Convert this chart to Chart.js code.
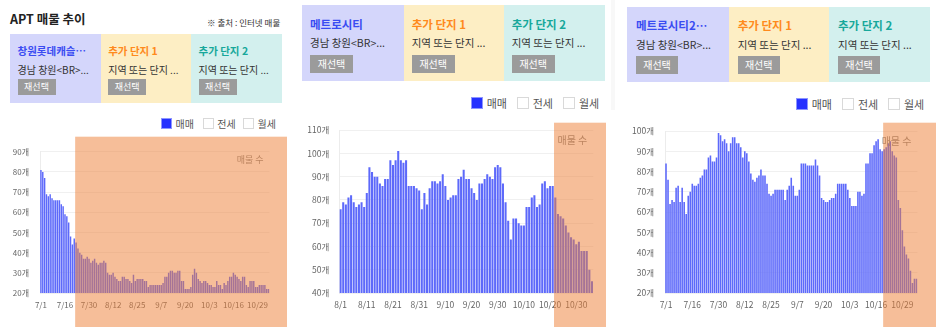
<!DOCTYPE html>
<html><head><meta charset="utf-8">
<script src="https://cdn.jsdelivr.net/npm/chart.js@4.4.0/dist/chart.umd.min.js"></script>
<style>
body{margin:0;width:936px;height:327px;overflow:hidden;background:#fff;font-family:'Noto Sans CJK KR','Noto Sans',sans-serif;position:relative}
div,span,canvas{position:absolute;box-sizing:border-box}
</style></head><body>
<script>
// ---------- DATA ----------
const tickLabelsA = ['7/1','7/16','7/30','8/12','8/25','9/7','9/20','10/3','10/16','10/29'];
const tickLabelsB = ['8/1','8/11','8/21','8/31','9/10','9/20','9/30','10/10','10/20','10/30'];

const values1 = [81,80,77,69,68,69,67,66,66,66,66,64,63,59,58,55,48,44,47,
  45,42,40,39,37,37,38,37,35,36,37,35,34,35,35,36,35,30,29,29,30,28,27,26,26,28,28,27,27,26,25,29,26,27,27,27,27,26,26,23,24,
  24,24,24,24,24,24,25,28,28,30,31,31,30,30,31,31,26,26,22,22,22,23,29,32,30,27,26,25,26,26,25,24,24,23,23,26,24,24,22,25,
  24,26,28,28,30,29,28,27,26,28,28,24,23,26,26,26,23,23,24,24,24,24,22,22];

const values2 = [76,79,78,81,82,79,77,78,79,77,83,94,92,90,90,87,86,89,89,97,95,97,101,97,96,97,86,86,86,85,
  84,76,83,78,85,88,88,87,88,91,86,80,81,82,82,89,90,93,89,89,85,83,80,87,87,89,91,90,89,94,
  95,94,87,79,71,63,72,72,70,69,69,77,77,81,82,77,78,87,88,85,86,86,81,74,73,72,69,66,64,63,
  61,62,58,58,58,50,45];

const values3 = [84,76,64,66,65,72,73,65,72,65,59,68,70,74,73,73,74,77,78,81,81,87,88,85,85,87,99,98,95,96,
  94,90,94,97,97,94,94,92,87,90,89,85,79,76,75,77,78,81,78,78,74,69,68,69,71,71,71,71,71,66,
  71,73,77,73,68,68,71,84,84,84,83,83,83,83,86,83,78,67,66,65,65,66,67,67,69,74,74,74,74,74,
  71,67,63,63,63,70,70,68,69,84,84,89,89,93,95,96,91,90,91,92,94,95,90,88,87,66,62,51,43,39,
  37,31,25,27,27];

const cardTitles1 = ['창원롯데캐슬…','추가 단지 1','추가 단지 2'];
const cardTitles2 = ['메트로시티','추가 단지 1','추가 단지 2'];
const cardTitles3 = ['메트로시티2…','추가 단지 1','추가 단지 2'];
const cardSubs = ['경남 창원<BR>...','지역 또는 단지 ...','지역 또는 단지 ...'];
const legendNames = ['매매','전세','월세'];

// category labels (dates). July has a few missing days in the source series.
function dateLabels(m, d, count, skip){
  const out=[]; const dt=new Date(2022,m-1,d);
  while(out.length<count){
    const s=(dt.getMonth()+1)+'/'+dt.getDate();
    if(!skip.includes(s)) out.push(s);
    dt.setDate(dt.getDate()+1);
  }
  return out;
}
const labels1 = dateLabels(7,1,values1.length,['7/6','7/12','7/23']);
const labels2 = dateLabels(8,1,values2.length,[]);
const labels3 = dateLabels(7,1,values3.length,['7/6','7/12','7/23']);

// ---------- STYLE ----------
const cardBg = ['#d4d6fb','#fdeec4','#d3f0ee'];
const cardTitleColor = ['#3a4cf2','#ff8a1c','#17a89b'];
const barColor = '#5d69fa';
const FONT = "'Noto Sans CJK KR','Noto Sans',sans-serif";

function el(tag, style, text){
  const e=document.createElement(tag); Object.assign(e.style, style);
  if(text!==undefined) e.textContent=text; document.body.appendChild(e); return e;
}

function cards(cfg, titles){
  let x=cfg.x;
  for(let i=0;i<3;i++){
    const w=cfg.w[i];
    el('div',{left:x+'px',top:cfg.y+'px',width:w+'px',height:cfg.h+'px',background:cardBg[i]});
    el('div',{left:(x+cfg.pad)+'px',top:(cfg.y+cfg.tY-8)+'px',height:'16px',lineHeight:'16px',fontSize:cfg.tF+'px',fontWeight:'700',color:cardTitleColor[i],whiteSpace:'nowrap'},titles[i]);
    el('div',{left:(x+cfg.pad)+'px',top:(cfg.y+cfg.sY-8)+'px',height:'16px',lineHeight:'16px',fontSize:cfg.sF+'px',color:'#333',whiteSpace:'nowrap'},cardSubs[i]);
    el('div',{left:(x+cfg.pad)+'px',top:(cfg.y+cfg.bY)+'px',width:cfg.bW+'px',height:cfg.bH+'px',lineHeight:cfg.bH+'px',background:'#9b9b9b',color:'#fff',fontSize:cfg.bF+'px',textAlign:'center'},'재선택');
    x+=w;
  }
}

function legend(cfg){
  for(let i=0;i<3;i++){
    const bx=cfg.boxX[i];
    el('div',{left:bx+'px',top:(cfg.y-cfg.box/2)+'px',width:cfg.box+'px',height:cfg.box+'px',
      background:i===0?'#2531ff':'#fff',border:i===0?'1px solid #8d95ff':'1px solid #d9d9d9'});
    el('div',{left:(bx+cfg.box+cfg.gap)+'px',top:(cfg.y-8)+'px',height:'16px',lineHeight:'16px',fontSize:cfg.f+'px',color:'#555',whiteSpace:'nowrap'},legendNames[i]);
  }
}

// Panel headers
el('div',{left:'10px',top:'10px',height:'18px',lineHeight:'18px',fontSize:'12.5px',fontWeight:'700',color:'#222',whiteSpace:'nowrap'},'APT 매물 추이');
el('div',{left:'207px',top:'15px',height:'14px',lineHeight:'14px',fontSize:'8.5px',color:'#333',whiteSpace:'nowrap'},'※ 출처 : 인터넷 매물');
cards({x:10,y:34.3,w:[90.7,90.3,90.7],h:69,pad:7.5,tY:16.7,sY:35.7,bY:45,bW:38,bH:16,tF:10.5,sF:10,bF:9},cardTitles1);
cards({x:302.3,y:5,w:[101.7,100,101],h:76,pad:7.7,tY:18.8,sY:38,bY:50,bW:43,bH:18,tF:11.5,sF:10.5,bF:10},cardTitles2);
cards({x:627.3,y:7.3,w:[101.7,100.3,101],h:75,pad:8.7,tY:17.4,sY:37.7,bY:48.7,bW:42,bH:18,tF:11.5,sF:10.5,bF:10},cardTitles3);
legend({y:123.8,box:11,gap:3.5,f:10,boxX:[161,202.7,243]});
legend({y:102.5,box:12,gap:4,f:11,boxX:[470.7,516.7,563]});
legend({y:104,box:12,gap:4,f:11,boxX:[795.7,842,888]});
el('div',{left:'611px',top:'0px',width:'4px',height:'110px',background:'#f8f8f8'});

// ---------- CHARTS ----------
const overlayPlugin = {
  id:'overlay',
  afterDraw(chart, args, o){
    const {ctx, chartArea, scales:{x}} = chart;
    ctx.save();
    ctx.font = o.fs+'px '+FONT;
    ctx.fillStyle='#8a8a8a'; ctx.textAlign='right'; ctx.textBaseline='middle';
    ctx.fillText('매물 수', chartArea.right - o.lx, chartArea.top + o.ly);
    const half=(x.getPixelForValue(1)-x.getPixelForValue(0))/2;
    const x0=x.getPixelForValue(o.from)-half;
    ctx.fillStyle='rgba(238,126,52,0.5)';
    ctx.fillRect(x0, o.top, o.right-x0, chart.height-o.top);
    ctx.restore();
  }
};

function makeChart(pos, labels, values, ticks, yMin, yMax, lay){
  const c=document.createElement('canvas');
  c.width=pos.w; c.height=pos.h;
  Object.assign(c.style,{left:pos.x+'px',top:pos.y+'px',width:pos.w+'px',height:pos.h+'px'});
  document.body.appendChild(c);
  new Chart(c,{
    type:'bar',
    data:{labels, datasets:[{label:'매매', data:values, backgroundColor:barColor, barPercentage:0.78, categoryPercentage:1}]},
    options:{
      responsive:false, animation:false, devicePixelRatio:1,
      layout:{padding:{top:lay.top,right:lay.right,left:0,bottom:0}},
      plugins:{legend:{display:false},tooltip:{enabled:false},
        overlay:{from:lay.from,top:lay.oTop,right:lay.oRight,fs:lay.lfs,lx:6,ly:lay.ly}},
      scales:{
        x:{grid:{display:false,drawTicks:false},border:{display:false},
          ticks:{autoSkip:false,maxRotation:0,minRotation:0,padding:lay.xPad,color:'#666',font:{family:FONT,size:lay.tf},
            callback:(v,i)=>ticks.includes(labels[i])?labels[i]:null},
          afterFit:s=>{s.height=lay.xH;}},
        y:{min:yMin,max:yMax,
          ticks:{stepSize:10,padding:lay.yPad,color:'#666',font:{family:FONT,size:lay.tf},callback:v=>v+'개'},
          grid:{color:'#f0f0f0',drawTicks:false},border:{color:'#ececec'},
          afterFit:s=>{s.width=lay.yW;}}
      }
    },
    plugins:[overlayPlugin]
  });
}

makeChart({x:0,y:136,w:290,h:191}, labels1, values1, tickLabelsA, 20, 90,
  {top:9,right:20.5,xH:34,yW:40,xPad:7,yPad:11,tf:8,from:19,oTop:0.7,oRight:287,lfs:9,ly:8});
makeChart({x:300,y:115,w:312,h:212}, labels2, values2, tickLabelsB, 40, 110,
  {top:12,right:18.7,xH:34,yW:39.3,xPad:7,yPad:10,tf:8.5,from:82,oTop:7.7,oRight:306,lfs:10,ly:10});
makeChart({x:620,y:115,w:316,h:212}, labels3, values3, tickLabelsA, 20, 100,
  {top:13.3,right:18.5,xH:34,yW:45,xPad:7,yPad:11,tf:8.5,from:108,oTop:7.7,oRight:316,lfs:10,ly:10});
</script>
</body></html>
